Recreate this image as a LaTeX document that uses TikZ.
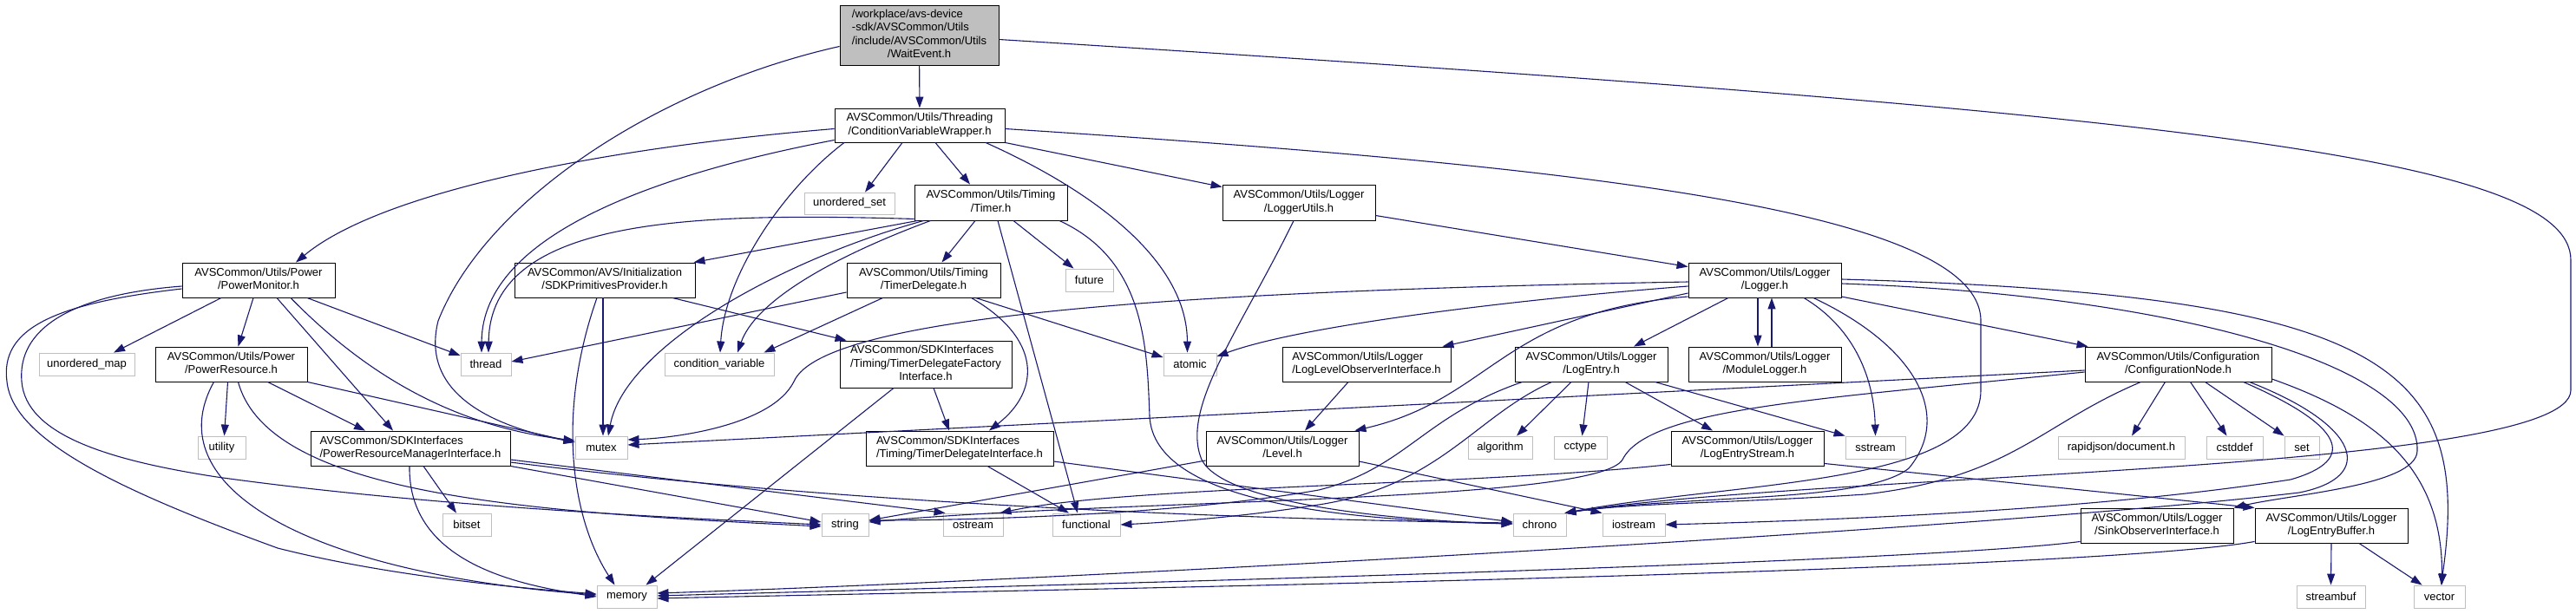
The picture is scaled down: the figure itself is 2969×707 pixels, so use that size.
\documentclass[tikz,border=0pt]{standalone}
\usepackage{fontspec}
\setmainfont{Liberation Sans}
\usetikzlibrary{arrows.meta,calc}
\definecolor{eblue}{HTML}{191970}
\definecolor{lgray}{HTML}{BFBFBF}
\newcommand{\twol}[2]{\begin{tabular}{@{}l@{}}#1\\\multicolumn{1}{@{}c@{}}{#2}\end{tabular}}
\newcommand{\threel}[3]{\begin{tabular}{@{}l@{}}#1\\#2\\\multicolumn{1}{@{}c@{}}{#3}\end{tabular}}
\newcommand{\fourl}[4]{\begin{tabular}{@{}l@{}}#1\\#2\\#3\\\multicolumn{1}{@{}c@{}}{#4}\end{tabular}}
\begin{document}
\begin{tikzpicture}[x=1pt,y=-1pt,
  font=\fontsize{13}{15.3}\selectfont,
  fnode/.style={draw=black, fill=white, line width=0.9pt, inner sep=0pt, minimum height=40pt},
  snode/.style={draw=lgray, fill=white, line width=0.9pt, inner sep=0pt, minimum height=26pt},
  rootbox/.style={draw=black, fill=lgray, line width=0.9pt, inner sep=0pt},
  dep/.style={draw=eblue, line width=1.1pt, -{Triangle[length=13pt,width=9pt]}}]
\fill[white] (0,0) rectangle (2969,707);
\useasboundingbox (0,0) rectangle (2969,707);

% ---------- nodes ----------
\node[rootbox, minimum width=183pt, minimum height=69pt] (we) at (1059.5,40.5) {\fourl{/workplace/avs-device}{-sdk/AVSCommon/Utils}{/include/AVSCommon/Utils}{/WaitEvent.h}};
\node[fnode, minimum width=196pt, minimum height=39pt] (cvw) at (1060,144.5) {\twol{AVSCommon/Utils/Threading}{/ConditionVariableWrapper.h}};
\node[snode, minimum width=104pt, minimum height=25pt] (uset) at (979,234.5) {unordered\_set};
\node[fnode, minimum width=176pt, minimum height=41pt] (timer) at (1142,233.5) {\twol{AVSCommon/Utils/Timing}{/Timer.h}};
\node[fnode, minimum width=176pt, minimum height=41pt] (lutils) at (1497,233.5) {\twol{AVSCommon/Utils/Logger}{/LoggerUtils.h}};
\node[fnode, minimum width=176pt] (pm) at (298,323) {\twol{AVSCommon/Utils/Power}{/PowerMonitor.h}};
\node[fnode, minimum width=208pt] (sdkp) at (697,323) {\twol{AVSCommon/AVS/Initialization}{/SDKPrimitivesProvider.h}};
\node[fnode, minimum width=177pt] (tdel) at (1064.5,323) {\twol{AVSCommon/Utils/Timing}{/TimerDelegate.h}};
\node[snode, minimum width=55pt] (future) at (1255.5,323) {future};
\node[fnode, minimum width=176pt] (logger) at (2034,323) {\twol{AVSCommon/Utils/Logger}{/Logger.h}};
\node[snode, minimum width=110pt] (umap) at (100,420) {unordered\_map};
\node[fnode, minimum width=175pt] (pres) at (266.5,420) {\twol{AVSCommon/Utils/Power}{/PowerResource.h}};
\node[snode, minimum width=58pt] (thread) at (560,420) {thread};
\node[snode, minimum width=126pt] (condvar) at (829,420) {condition\_variable};
\node[fnode, minimum width=198pt, minimum height=54pt] (tdfi) at (1067,420) {\threel{AVSCommon/SDKInterfaces}{/Timing/TimerDelegateFactory}{Interface.h}};
\node[snode, minimum width=61pt] (atomic) at (1371.5,420) {atomic};
\node[fnode, minimum width=194pt] (llobs) at (1575,420) {\twol{AVSCommon/Utils/Logger}{/LogLevelObserverInterface.h}};
\node[fnode, minimum width=176pt] (lentry) at (1834,420) {\twol{AVSCommon/Utils/Logger}{/LogEntry.h}};
\node[fnode, minimum width=176pt] (mlog) at (2034,420) {\twol{AVSCommon/Utils/Logger}{/ModuleLogger.h}};
\node[fnode, minimum width=215pt] (cfg) at (2510.5,420) {\twol{AVSCommon/Utils/Configuration}{/ConfigurationNode.h}};
\node[snode, minimum width=55pt] (utility) at (255.5,516) {utility};
\node[fnode, minimum width=230pt] (prmi) at (473,517) {\twol{AVSCommon/SDKInterfaces}{/PowerResourceManagerInterface.h}};
\node[snode, minimum width=60pt] (mutex) at (693,516) {mutex};
\node[fnode, minimum width=216pt] (tdi) at (1106,517) {\twol{AVSCommon/SDKInterfaces}{/Timing/TimerDelegateInterface.h}};
\node[fnode, minimum width=176pt] (level) at (1478,517) {\twol{AVSCommon/Utils/Logger}{/Level.h}};
\node[snode, minimum width=74pt] (algo) at (1729,516) {algorithm};
\node[snode, minimum width=61pt] (cctype) at (1821.5,516) {cctype};
\node[fnode, minimum width=176pt] (lestream) at (2014,517) {\twol{AVSCommon/Utils/Logger}{/LogEntryStream.h}};
\node[snode, minimum width=69pt] (sstream) at (2161.5,516) {sstream};
\node[snode, minimum width=146pt] (rapid) at (2445,516) {rapidjson/document.h};
\node[snode, minimum width=65pt] (cstddef) at (2575.5,516) {cstddef};
\node[snode, minimum width=40pt] (set) at (2653,516) {set};
\node[fnode, minimum width=176pt] (sink) at (2486,606) {\twol{AVSCommon/Utils/Logger}{/SinkObserverInterface.h}};
\node[fnode, minimum width=176pt] (lebuf) at (2687,606) {\twol{AVSCommon/Utils/Logger}{/LogEntryBuffer.h}};
\node[snode, minimum width=56pt] (bitset) at (538,605) {bitset};
\node[snode, minimum width=54pt] (string) at (974,605) {string};
\node[snode, minimum width=69pt] (ostream) at (1121.5,605) {ostream};
\node[snode, minimum width=78pt] (functional) at (1252,605) {functional};
\node[snode, minimum width=61pt] (chrono) at (1774.5,605) {chrono};
\node[snode, minimum width=72pt] (iostream) at (1883,605) {iostream};
\node[snode, minimum width=69pt] (memory) at (722.5,688) {memory};
\node[snode, minimum width=79pt] (streambuf) at (2686.5,688) {streambuf};
\node[snode, minimum width=59pt] (vector) at (2811.5,688) {vector};

% ---------- edges ----------
% WaitEvent
\draw[dep] (we) -- (cvw);
\draw[dep] ([shift={(0,13)}]we.west) .. controls (760,100) and (560,230) .. (505,370) .. controls (485,450) and (560,490) .. ([shift={(0,-6)}]mutex.west);
\draw[dep] ([shift={(0,5)}]we.east) .. controls (2500,130) and (2963,180) .. (2963,300) -- (2963,450) .. controls (2963,545) and (2100,545) .. ([shift={(-2,0)}]chrono.north east);
% ConditionVariableWrapper
\draw[dep] ([shift={(0,4)}]cvw.west) .. controls (700,170) and (440,220) .. ([shift={(43,0)}]pm.north);
\draw[dep] ([shift={(0,17)}]cvw.west) .. controls (760,200) and (556,270) .. ([shift={(-5,0)}]thread.north);
\draw[dep] ([shift={(-87,0)}]cvw.south) .. controls (900,220) and (835,320) .. ([shift={(1,0)}]condvar.north);
\draw[dep] ([shift={(-20,0)}]cvw.south) -- ([shift={(18,0)}]uset.north);
\draw[dep] ([shift={(18,0)}]cvw.south) -- ([shift={(-24,0)}]timer.north);
\draw[dep] (cvw.south east) -- ([shift={(0,3)}]lutils.north west);
\draw[dep] ([shift={(76,0)}]cvw.south) .. controls (1260,220) and (1368,300) .. ([shift={(-3,0)}]atomic.north);
\draw[dep] ([shift={(0,4)}]cvw.east) .. controls (1800,190) and (2283,240) .. (2283,370) -- (2283,450) .. controls (2283,560) and (2000,555) .. ([shift={(-2,0)}]chrono.north east);
% PowerMonitor
\draw[dep] ([shift={(-43,0)}]pm.south) -- ([shift={(31,0)}]umap.north);
\draw[dep] ([shift={(-6,0)}]pm.south) -- ([shift={(8,0)}]pres.north);
\draw[dep] ([shift={(21,0)}]pm.south) -- ([shift={(-20,0)}]prmi.north);
\draw[dep] ([shift={(37,0)}]pm.south) .. controls (410,420) and (510,490) .. ([shift={(0,-8)}]mutex.west);
\draw[dep] ([shift={(56,0)}]pm.south) -- ([shift={(0,-10)}]thread.west);
\draw[dep] ([shift={(0,10)}]pm.west) .. controls (60,350) and (0,380) .. (8,440) .. controls (15,510) and (150,570) .. (320,632) .. controls (450,665) and (600,678) .. ([shift={(0,-3)}]memory.west);
\draw[dep] ([shift={(0,7)}]pm.west) .. controls (80,340) and (20,380) .. (25,440) .. controls (30,500) and (120,530) .. (250,550) .. controls (500,585) and (800,598) .. (string.west);
% PowerResource
\draw[dep] ([shift={(-4,0)}]pres.south) -- ([shift={(3,0)}]utility.north);
\draw[dep] ([shift={(42,0)}]pres.south) -- ([shift={(-52,0)}]prmi.north);
\draw[dep] (pres.south east) -- ([shift={(0,-6)}]mutex.west);
\draw[dep] ([shift={(-20,0)}]pres.south) .. controls (180,560) and (350,660) .. ([shift={(0,-2)}]memory.west);
\draw[dep] ([shift={(8,0)}]pres.south) .. controls (310,570) and (600,590) .. ([shift={(0,2)}]string.west);
% PowerResourceManagerInterface
\draw[dep] ([shift={(15,0)}]prmi.south) -- ([shift={(-12,0)}]bitset.north);
\draw[dep] ([shift={(-1,0)}]prmi.south) .. controls (470,650) and (600,675) .. (memory.west);
\draw[dep] (prmi.south east) -- ([shift={(0,-3)}]string.west);
\draw[dep] ([shift={(0,13)}]prmi.east) -- ([shift={(3,0)}]ostream.north west);
\draw[dep] ([shift={(0,16)}]prmi.east) .. controls (1000,585) and (1500,600) .. ([shift={(0,-2)}]chrono.west);
% SDKPrimitivesProvider
\draw[dep] ([shift={(-2,0)}]sdkp.south) -- ([shift={(2,0)}]mutex.north);
\draw[dep] ([shift={(-9,0)}]sdkp.south) .. controls (640,480) and (660,600) .. ([shift={(-14,0)}]memory.north);
\draw[dep] ([shift={(78,0)}]sdkp.south) -- ([shift={(8,0)}]tdfi.north west);
% Timer
\draw[dep] ([shift={(0,-2)}]timer.south west) .. controls (800,245) and (565,250) .. ([shift={(3,0)}]thread.north);
\draw[dep] ([shift={(4,0)}]timer.south west) -- ([shift={(-2,0)}]sdkp.north east);
\draw[dep] ([shift={(19,0)}]timer.south west) .. controls (950,300) and (870,350) .. ([shift={(21,0)}]condvar.north);
\draw[dep] ([shift={(11,0)}]timer.south west) .. controls (900,300) and (720,400) .. ([shift={(8,0)}]mutex.north);
\draw[dep] ([shift={(-18,0)}]timer.south) -- ([shift={(21,0)}]tdel.north);
\draw[dep] ([shift={(8,0)}]timer.south) -- ([shift={(-10,0)}]functional.north);
\draw[dep] ([shift={(26,0)}]timer.south) -- ([shift={(-18,0)}]future.north);
\draw[dep] ([shift={(79,0)}]timer.south) .. controls (1320,300) and (1322,400) .. (1325,480) .. controls (1330,580) and (1550,600) .. ([shift={(0,-1)}]chrono.west);
% TimerDelegate
\draw[dep] ([shift={(0,14)}]tdel.west) -- ([shift={(0,-3)}]thread.east);
\draw[dep] ([shift={(-47,0)}]tdel.south) -- ([shift={(-12,0)}]condvar.north east);
\draw[dep] ([shift={(60,0)}]tdel.south) -- ([shift={(0,-8)}]atomic.west);
\draw[dep] ([shift={(55,0)}]tdel.south) .. controls (1200,390) and (1200,450) .. ([shift={(34,0)}]tdi.north);
% TimerDelegateFactoryInterface
\draw[dep] ([shift={(9,0)}]tdfi.south) -- ([shift={(-12,0)}]tdi.north);
\draw[dep] ([shift={(-37,0)}]tdfi.south) -- ([shift={(22,0)}]memory.north);
% TimerDelegateInterface
\draw[dep] ([shift={(32,0)}]tdi.south) -- ([shift={(-20,0)}]functional.north);
\draw[dep] ([shift={(0,15)}]tdi.east) -- ([shift={(0,-3)}]chrono.west);
% LoggerUtils
\draw[dep] ([shift={(0,15)}]lutils.east) -- ([shift={(0,5)}]logger.north west);
\draw[dep] ([shift={(-6,0)}]lutils.south) .. controls (1430,380) and (1360,470) .. (1385,530) .. controls (1410,580) and (1600,600) .. ([shift={(0,-1)}]chrono.west);
% Logger
\draw[dep] ([shift={(0,2)}]logger.west) .. controls (1400,335) and (950,360) .. (915,440) .. controls (890,490) and (780,505) .. ([shift={(0,-9)}]mutex.east);
\draw[dep] ([shift={(0,7)}]logger.west) .. controls (1750,345) and (1500,375) .. ([shift={(0,-9)}]atomic.east);
\draw[dep] ([shift={(0,15)}]logger.west) -- ([shift={(-10,0)}]llobs.north east);
\draw[dep] ([shift={(0,19)}]logger.west) .. controls (1730,360) and (1720,460) .. ([shift={(-5,0)}]level.north east);
\draw[dep] ([shift={(-42,0)}]logger.south) -- ([shift={(49,0)}]lentry.north);
\draw[dep] ([shift={(-8,0)}]logger.south) -- ([shift={(-8,0)}]mlog.north);
\draw[dep] ([shift={(8,0)}]mlog.north) -- ([shift={(8,0)}]logger.south);
\draw[dep] ([shift={(45,0)}]logger.south) .. controls (2140,380) and (2160,440) .. (sstream.north);
\draw[dep] ([shift={(56,0)}]logger.south) .. controls (2210,400) and (2250,480) .. (2200,540) .. controls (2150,580) and (1950,570) .. ([shift={(-2,0)}]chrono.north east);
\draw[dep] ([shift={(0,19)}]logger.east) -- ([shift={(4,0)}]cfg.north west);
\draw[dep] ([shift={(0,-1)}]logger.east) .. controls (2750,340) and (2850,420) .. ([shift={(2,0)}]vector.north);
\draw[dep] ([shift={(0,4)}]logger.east) .. controls (2500,340) and (2790,420) .. (2786,520) .. controls (2785,560) and (2640,570) .. (sink.north east);
% ConfigurationNode
\draw[dep] ([shift={(0,7)}]cfg.west) -- ([shift={(0,-3)}]mutex.east);
\draw[dep] ([shift={(0,9)}]cfg.west) .. controls (2100,460) and (1900,470) .. (1870,530) .. controls (1840,580) and (1300,575) .. ([shift={(0,-3)}]string.east);
\draw[dep] ([shift={(-43,0)}]cfg.south) .. controls (2350,490) and (2320,550) .. (2150,570) .. controls (2000,580) and (1880,580) .. ([shift={(-2,0)}]chrono.north east);
\draw[dep] ([shift={(-15,0)}]cfg.south) -- ([shift={(12,0)}]rapid.north);
\draw[dep] ([shift={(14,0)}]cfg.south) -- ([shift={(-9,0)}]cstddef.north);
\draw[dep] ([shift={(31,0)}]cfg.south) -- (set.north west);
\draw[dep] ([shift={(75,0)}]cfg.south) .. controls (2700,490) and (2720,530) .. (2640,553) .. controls (2400,590) and (2100,600) .. (iostream.east);
\draw[dep] ([shift={(82,0)}]cfg.south) .. controls (2720,490) and (2740,550) .. (2650,568) .. controls (2300,610) and (1200,670) .. ([shift={(0,-4)}]memory.east);
\draw[dep] ([shift={(0,17)}]cfg.east) .. controls (2740,480) and (2815,540) .. ([shift={(3,0)}]vector.north);
% LogEntry
\draw[dep] ([shift={(-23,0)}]lentry.south) -- ([shift={(19,0)}]algo.north);
\draw[dep] ([shift={(-3,0)}]lentry.south) -- ([shift={(2,0)}]cctype.north);
\draw[dep] ([shift={(39,0)}]lentry.south) -- ([shift={(-40,0)}]lestream.north);
\draw[dep] ([shift={(-15,0)}]lentry.south east) -- (sstream.north west);
\draw[dep] ([shift={(9,0)}]lentry.south west) .. controls (1640,480) and (1620,540) .. (1520,565) .. controls (1350,595) and (1100,600) .. ([shift={(0,-5)}]string.east);
\draw[dep] ([shift={(43,0)}]lentry.south west) .. controls (1700,480) and (1660,560) .. (1520,582) .. controls (1420,598) and (1330,603) .. (functional.east);
% LogEntryStream
\draw[dep] ([shift={(0,-3)}]lestream.south east) -- (lebuf.north west);
\draw[dep] ([shift={(0,-2)}]lestream.south west) .. controls (1700,560) and (1300,560) .. ([shift={(-4,0)}]ostream.north east);
% LogEntryBuffer
\draw[dep] (lebuf.south) -- (streambuf.north);
\draw[dep] ([shift={(32,0)}]lebuf.south) -- ([shift={(10,0)}]vector.north west);
\draw[dep] ([shift={(0,-2)}]lebuf.south west) .. controls (2400,660) and (1200,680) .. ([shift={(0,2)}]memory.east);
% SinkObserverInterface
\draw[dep] ([shift={(0,-2)}]sink.south west) .. controls (2200,650) and (1200,675) .. ([shift={(0,-1)}]memory.east);
% Level
\draw[dep] ([shift={(0,14)}]level.west) -- ([shift={(0,-5)}]string.east);
\draw[dep] ([shift={(0,15)}]level.east) -- (iostream.north west);
% LogLevelObserverInterface
\draw[dep] ([shift={(-21,0)}]llobs.south) -- ([shift={(26,0)}]level.north);
\end{tikzpicture}
\end{document}
